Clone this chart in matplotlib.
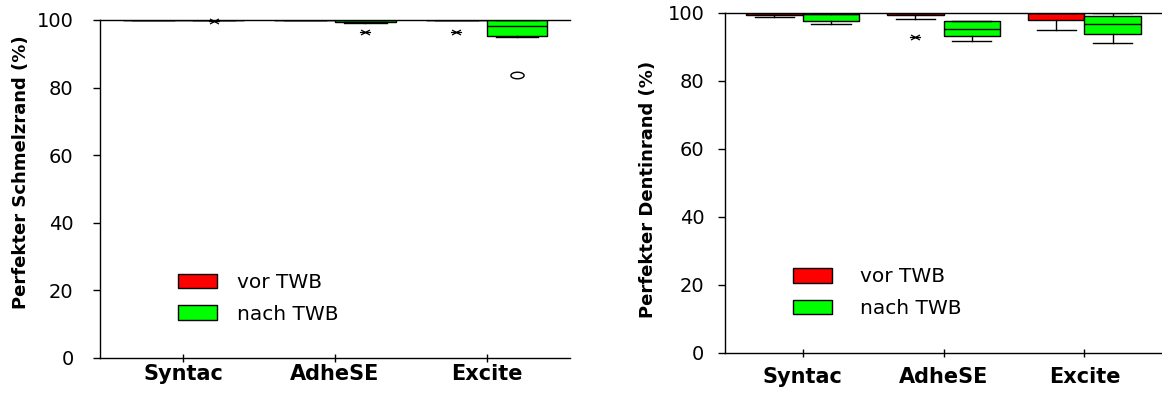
import numpy as np
import matplotlib.pyplot as plt
from matplotlib.patches import Patch
from matplotlib.path import Path
from matplotlib.transforms import Affine2D

plt.rcParams['font.family'] = ['DejaVu Sans']

gruppen = ['Syntac', 'AdheSE', 'Excite']

# Schmelzrand (links)
s_vor_med = [100, 100, 100]
s_vor_q1 = [100, 100, 100]
s_vor_q3 = [100, 100, 100]
s_vor_lo = [100, 100, 100]
s_vor_hi = [100, 100, 100]
s_nach_med = [100, 100, 98.2]
s_nach_q1 = [100, 99.5, 95.4]
s_nach_q3 = [100, 100, 100]
s_nach_lo = [100, 99.0, 95.1]
s_nach_hi = [100, 100, 100]
s_vor_extrem = [[], [], [96.5]]
s_nach_extrem = [[99.8], [96.4], []]
s_nach_ausreisser = [[], [], [83.7]]

# Dentinrand (rechts)
d_vor_med = [100, 100, 100]
d_vor_q1 = [99.5, 99.3, 97.9]
d_vor_q3 = [100, 100, 100]
d_vor_lo = [98.8, 98.1, 95.1]
d_vor_hi = [100, 100, 100]
d_nach_med = [99.7, 95.2, 96.8]
d_nach_q1 = [97.5, 93.2, 93.7]
d_nach_q3 = [99.7, 97.6, 99.1]
d_nach_lo = [96.7, 91.7, 91.3]
d_nach_hi = [100, 97.7, 100]
d_vor_extrem = [[], [93.0], []]

# Marker wie in SPSS: Stern (flach) und Ellipse
stern = Path([(-1, 0), (1, 0), (-0.8, -0.45), (0.8, 0.45), (-0.8, 0.45), (0.8, -0.45)],
             [Path.MOVETO, Path.LINETO] * 3)
ellipse = Path.unit_circle().transformed(Affine2D().scale(1.0, 0.5))


def stats(med, q1, q3, lo, hi):
    return [dict(med=m, q1=a, q3=b, whislo=l, whishi=h, fliers=[])
            for m, a, b, l, h in zip(med, q1, q3, lo, hi)]


def boxen(ax, st, pos, farbe):
    ax.bxp(st, positions=pos, widths=0.4, patch_artist=True, showfliers=False,
           boxprops=dict(facecolor=farbe, edgecolor='black', linewidth=1),
           medianprops=dict(color='black', linewidth=1),
           whiskerprops=dict(color='black', linewidth=1),
           capprops=dict(color='black', linewidth=1), capwidths=0.28,
           manage_ticks=False)


def punkte(ax, werte, pos, marker, **kw):
    for p, w in zip(pos, werte):
        if w:
            ax.plot([p] * len(w), w, linestyle='none', marker=marker, color='black',
                    clip_on=False, **kw)


x = np.arange(1, 4)
rot = '#ff0000'
gruen = '#00ff00'

fig = plt.figure(figsize=(11.62, 3.96), dpi=100)
ax1 = fig.add_axes([0.0861, 0.096, 0.4045, 0.8535])
ax2 = fig.add_axes([0.624, 0.1086, 0.376, 0.8586])

boxen(ax1, stats(s_vor_med, s_vor_q1, s_vor_q3, s_vor_lo, s_vor_hi), x - 0.2, rot)
boxen(ax1, stats(s_nach_med, s_nach_q1, s_nach_q3, s_nach_lo, s_nach_hi), x + 0.2, gruen)
punkte(ax1, s_vor_extrem, x - 0.2, stern, markersize=8, markeredgewidth=0.9)
punkte(ax1, s_nach_extrem, x + 0.2, stern, markersize=8, markeredgewidth=0.9)
punkte(ax1, s_nach_ausreisser, x + 0.2, ellipse, markersize=9.5, markerfacecolor='none',
       markeredgewidth=1)

boxen(ax2, stats(d_vor_med, d_vor_q1, d_vor_q3, d_vor_lo, d_vor_hi), x - 0.2, rot)
boxen(ax2, stats(d_nach_med, d_nach_q1, d_nach_q3, d_nach_lo, d_nach_hi), x + 0.2, gruen)
punkte(ax2, d_vor_extrem, x - 0.2, stern, markersize=8, markeredgewidth=0.9)

for ax, lab, ypad, xpad in [(ax1, 'Perfekter Schmelzrand (%)', 14, 1),
                            (ax2, 'Perfekter Dentinrand (%)', 10, 7)]:
    ax.set_xlim(0.45, 3.55)
    ax.set_ylim(0, 100)
    ax.set_yticks([0, 20, 40, 60, 80, 100])
    ax.set_xticks(x)
    ax.set_xticklabels(gruppen, fontsize=15, fontweight='bold')
    ax.tick_params(axis='y', direction='out', length=5, width=1, pad=ypad, labelsize=14)
    ax.tick_params(axis='x', direction='inout', length=6, width=1, pad=xpad)
    ax.spines['right'].set_visible(False)
    for s in ax.spines.values():
        s.set_linewidth(1)
    ax.set_ylabel(lab, fontsize=13, fontweight='bold')

ax1.yaxis.set_label_coords(-0.149, 0.55)
ax2.yaxis.set_label_coords(-0.156, 0.48)

handles = [Patch(facecolor=rot, edgecolor='black', label='vor TWB'),
           Patch(facecolor=gruen, edgecolor='black', label='nach TWB')]
ax1.legend(handles=handles, frameon=False, fontsize=14.5, handlelength=1.95,
           handleheight=0.75, labelspacing=0.62, handletextpad=1.0,
           loc='upper left', bbox_to_anchor=(0.127, 0.305))
ax2.legend(handles=handles, frameon=False, fontsize=14.5, handlelength=1.95,
           handleheight=0.75, labelspacing=0.62, handletextpad=1.4,
           loc='upper left', bbox_to_anchor=(0.114, 0.305))

fig.savefig('out.png', dpi=100)
